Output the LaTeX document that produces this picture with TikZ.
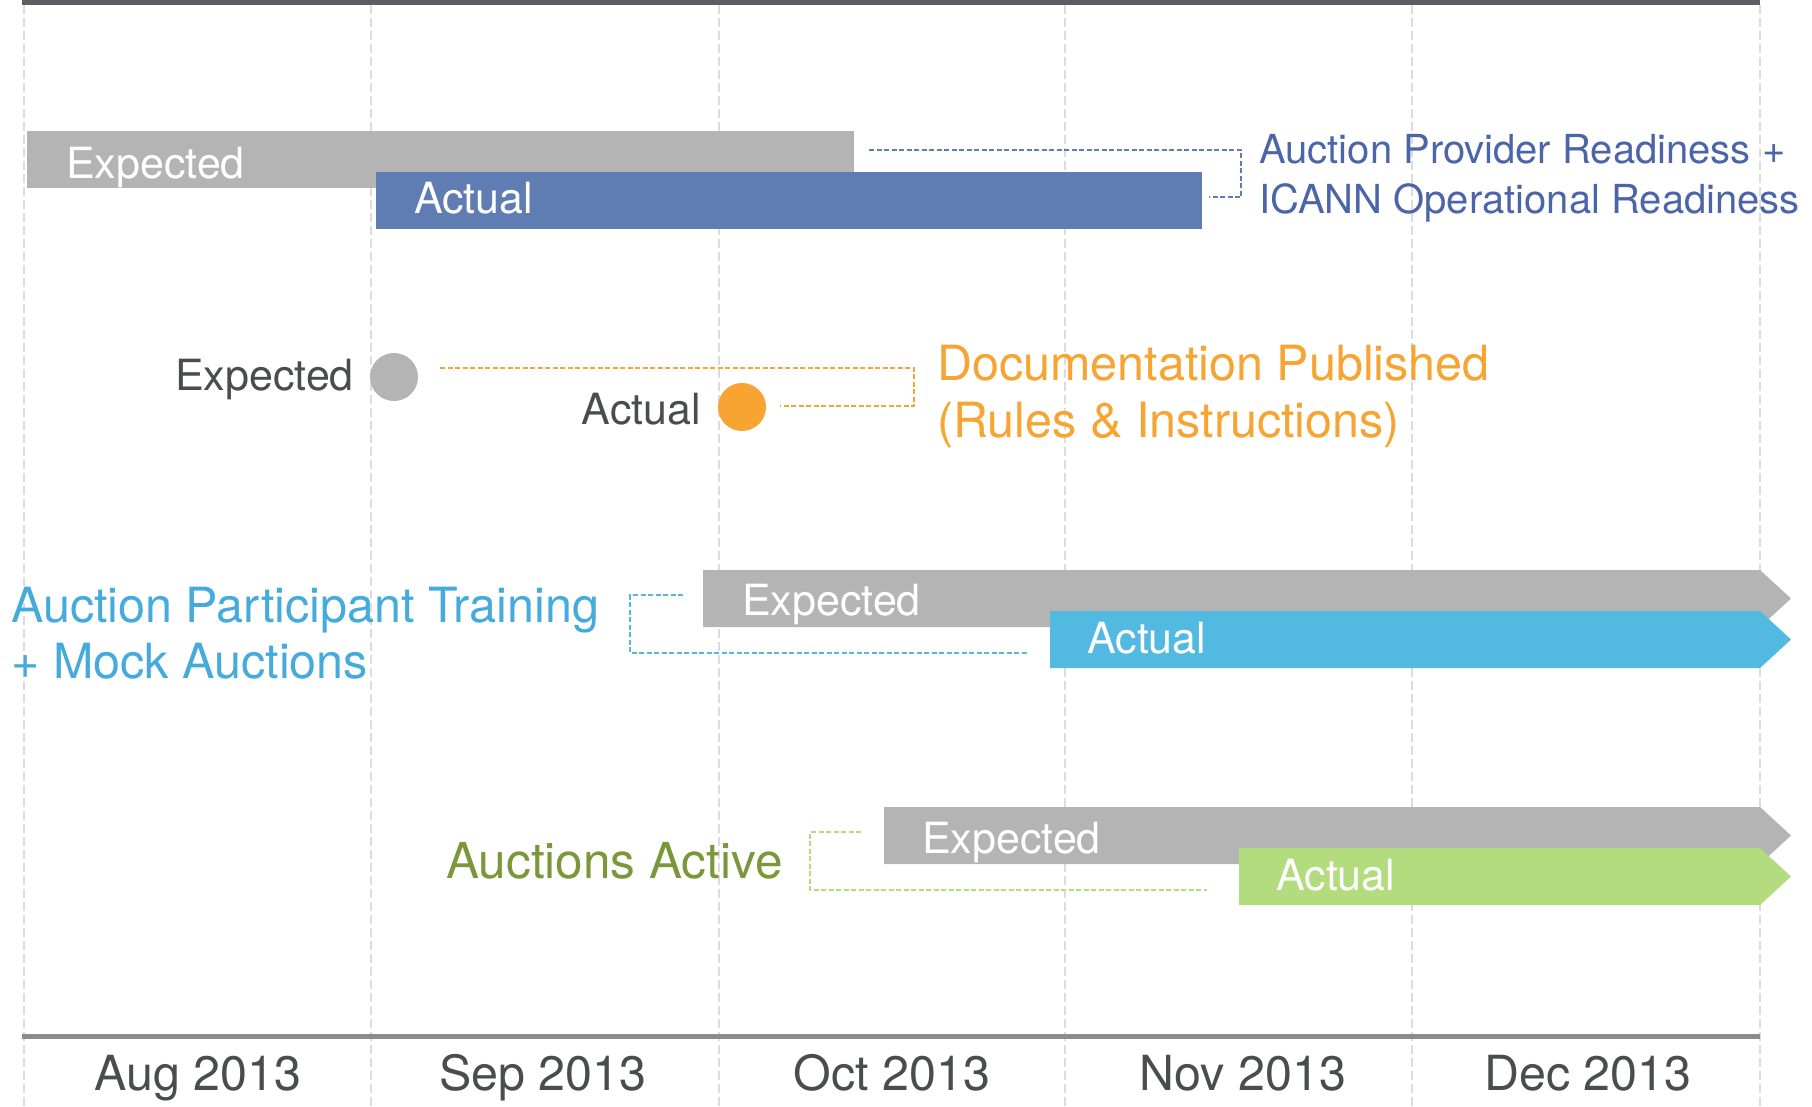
\documentclass[tikz,border=0pt]{standalone}
\usepackage{fontspec}
\setmainfont{TeX Gyre Heros}
\definecolor{barGray}{HTML}{B4B4B4}
\definecolor{barBlue}{HTML}{5F7DB3}
\definecolor{lblBlue}{HTML}{4B65A8}
\definecolor{orng}{HTML}{F8A432}
\definecolor{skyBar}{HTML}{52B9E0}
\definecolor{skyLbl}{HTML}{45ABDC}
\definecolor{grnBar}{HTML}{B2DC7E}
\definecolor{grnLbl}{HTML}{7A983A}
\definecolor{darkTxt}{HTML}{4A4C50}
\definecolor{gridC}{HTML}{DCDCDC}
\definecolor{topC}{HTML}{5B5F63}
\definecolor{axisC}{HTML}{8C8C8C}
\tikzset{
  gridline/.style={draw=gridC, line width=2pt, dash pattern=on 9pt off 4pt},
  bartxt/.style={text=white, font=\fontsize{43}{50}\selectfont, inner sep=0pt, anchor=base west},
  rowtxt/.style={text=darkTxt, font=\fontsize{43}{50}\selectfont, inner sep=0pt},
  lbltxt/.style={font=\fontsize{40}{50}\selectfont, inner sep=0pt, anchor=base west},
  biglbl/.style={font=\fontsize{48.5}{57}\selectfont, inner sep=0pt, anchor=base west},
  month/.style={text=darkTxt, font=\fontsize{48.4}{57}\selectfont, inner sep=0pt, anchor=base},
  conn/.style={line width=2.2pt, dash pattern=on 5pt off 2.5pt},
}
\begin{document}
\begin{tikzpicture}[x=1pt,y=-1pt]
\useasboundingbox (0,0) rectangle (1812,1106);
\fill[white] (0,0) rectangle (1812,1106);
% grid
\foreach \gx in {24,371,719,1065,1412,1760}{
  \draw[gridline] (\gx,5) -- (\gx,1106);
}
% top and axis lines
\fill[topC] (22,0) rectangle (1760,5);
\fill[axisC] (22,1034) rectangle (1760,1039);
% months
\node[month] (m1) at (198,1090) {Aug 2013};
\node[month] (m2) at (543,1090) {Sep 2013};
\node[month] (m3) at (892,1090) {Oct 2013};
\node[month] (m4) at (1243,1090) {Nov 2013};
\node[month] (m5) at (1588,1090) {Dec 2013};

% ---- Row 1
\fill[barGray] (27,131) rectangle (854,188);
\fill[barBlue] (376,172) rectangle (1202,229);
\node[bartxt] (e1) at (66,178) {Expected};
\node[bartxt] (a1) at (414,213) {Actual};
\coordinate (c1a) at (869,150);
\coordinate (c1b) at (1209,197);
\draw[conn, draw=barBlue] (c1a) -- (1241,150) -- (1241,197) -- (c1b);
\node[lbltxt, text=lblBlue] (l1a) at (1259,163) {Auction Provider Readiness +};
\node[lbltxt, text=lblBlue] (l1b) at (1259,213) {ICANN Operational Readiness};

% ---- Row 2
\node[circle, fill=barGray, minimum size=48pt, inner sep=0pt] (ce) at (394,377) {};
\node[circle, fill=orng, minimum size=48pt, inner sep=0pt] (ca) at (742,407) {};
\node[rowtxt, anchor=base east] (e2) at (354,390) {Expected};
\node[rowtxt, anchor=base east] (a2) at (701,424) {Actual};
\coordinate (c2a) at (440,368);
\coordinate (c2b) at (780,406);
\draw[conn, draw=orng] (c2a) -- (914,368) -- (914,406) -- (c2b);
\node[biglbl, text=orng] (l2a) at (937,380) {Documentation Published};
\node[biglbl, text=orng] (l2b) at (937,437) {(Rules \& Instructions)};

% ---- Row 3
\fill[barGray] (703,570) -- (1760,570) -- (1791,598.5) -- (1760,627) -- (703,627) -- cycle;
\fill[skyBar] (1050,611) -- (1760,611) -- (1791,639.5) -- (1760,668) -- (1050,668) -- cycle;
\node[bartxt] (e3) at (742,615) {Expected};
\node[bartxt] (a3) at (1087,653) {Actual};
\coordinate (c3a) at (683,595);
\coordinate (c3b) at (1027,653);
\draw[conn, draw=skyBar] (c3a) -- (630,595) -- (630,653) -- (c3b);
\node[biglbl, text=skyLbl] (l3a) at (11,622) {Auction Participant Training};
\node[biglbl, text=skyLbl] (l3b) at (11,678) {+ Mock Auctions};

% ---- Row 4
\fill[barGray] (884,807) -- (1760,807) -- (1791,835.5) -- (1760,864) -- (884,864) -- cycle;
\fill[grnBar] (1239,848) -- (1760,848) -- (1791,876.5) -- (1760,905) -- (1239,905) -- cycle;
\node[bartxt] (e4) at (922,853) {Expected};
\node[bartxt] (a4) at (1276,890) {Actual};
\coordinate (c4a) at (861,832);
\coordinate (c4b) at (1207,890);
\draw[conn, draw=grnBar] (c4a) -- (810,832) -- (810,890) -- (c4b);
\node[biglbl, text=grnLbl, font=\fontsize{49.5}{57}\selectfont] (l4) at (446,878) {Auctions Active};
\end{tikzpicture}
\end{document}
